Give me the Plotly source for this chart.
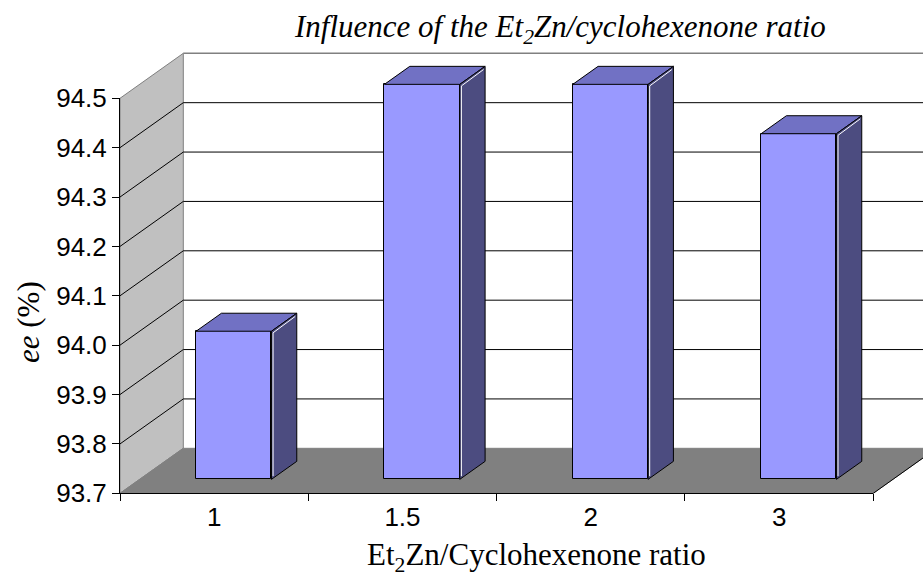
import plotly.graph_objects as go

# ---- data ---------------------------------------------------------------
ratios = ["1", "1.5", "2", "3"]
ee_values = [94.0, 94.5, 94.5, 94.4]
y_ticks = [93.7, 93.8, 93.9, 94.0, 94.1, 94.2, 94.3, 94.4, 94.5]
y_min, y_max = 93.7, 94.5

# ---- pseudo-3D frame geometry (pixels) ----------------------------------
W, H = 923, 576
FX0, FX1 = 120.0, 873.3          # front edge of the floor
FY_BOT, FY_TOP = 493.3, 98.3     # y_min / y_max on the front axis
DEPTH_X, DEPTH_Y = 63.3, 45.0    # projected depth of the floor
BAR_FRONT = 0.31                 # depth fraction where bar fronts sit
BAR_DEPTH = 0.40                 # depth fraction occupied by a bar
BAR_WIDTH = 0.40                 # bar width in category units

n = len(ratios)
cat_w = (FX1 - FX0) / n
ppu = (FY_BOT - FY_TOP) / (y_max - y_min)   # pixels per y unit

FRONT_COLOR = "#9999FF"
TOP_COLOR = "#7171C4"
SIDE_COLOR = "#4C4C80"
WALL_COLOR = "#C0C0C0"
FLOOR_COLOR = "#808080"
EDGE_GRAY = "#808080"

SANS = "Liberation Sans, Arial, sans-serif"
SERIF = "Liberation Serif, Times New Roman, serif"


def fx(p):
    return p / W


def fy(p):
    return 1 - p / H


def y_front(v):
    return FY_BOT - (v - y_min) * ppu


def path(points):
    return "M " + " L ".join(f"{fx(a):.5f},{fy(b):.5f}" for a, b in points)


def data_path(points, close=True):
    s = "M " + " L ".join(f"{a:.5f},{b:.5f}" for a, b in points)
    return s + " Z" if close else s


# axes for the bar plane, shifted back into the depth of the chart
dx0, dy0 = BAR_FRONT * DEPTH_X, BAR_FRONT * DEPTH_Y
x2_range = [(0 - FX0 - dx0) / cat_w - 0.5, (W - FX0 - dx0) / cat_w - 0.5]
y2_range = [y_min + (FY_BOT - dy0 - H) / ppu, y_min + (FY_BOT - dy0) / ppu]

fig = go.Figure()

# category holder for the front axis
fig.add_trace(go.Scatter(
    x=ratios, y=[y_min] * n, mode="markers", marker=dict(opacity=0),
    xaxis="x", yaxis="y", showlegend=False, hoverinfo="skip"))

# front faces of the bars
fig.add_trace(go.Bar(
    x=list(range(n)), y=[v - y_min for v in ee_values], base=y_min,
    width=BAR_WIDTH, xaxis="x2", yaxis="y2",
    marker=dict(color=FRONT_COLOR, line=dict(color="black", width=1)),
    showlegend=False, hovertemplate="%{customdata}<extra></extra>",
    customdata=ee_values))

shapes = []

# left wall
DX, DY = DEPTH_X, DEPTH_Y
shapes.append(dict(
    type="path", xref="paper", yref="paper", layer="below",
    path=path([(FX0, y_front(y_max)), (FX0 + DX, y_front(y_max) - DY),
               (FX0 + DX, FY_BOT - DY), (FX0, FY_BOT)]) + " Z",
    fillcolor=WALL_COLOR, line=dict(color=EDGE_GRAY, width=1)))

# floor
shapes.append(dict(
    type="path", xref="paper", yref="paper", layer="below",
    path=path([(FX0, FY_BOT), (FX1, FY_BOT), (FX1 + DX, FY_BOT - DY),
               (FX0 + DX, FY_BOT - DY)]) + " Z",
    fillcolor=FLOOR_COLOR, line=dict(color=EDGE_GRAY, width=1)))
shapes.append(dict(
    type="path", xref="paper", yref="paper", layer="below",
    path=path([(FX1, FY_BOT), (FX1 + DX, FY_BOT - DY)]),
    line=dict(color="black", width=1)))

# back wall top edge
shapes.append(dict(
    type="path", xref="paper", yref="paper", layer="below",
    path=path([(FX0 + DX, y_front(y_max) - DY), (FX1 + DX, y_front(y_max) - DY)]),
    line=dict(color=EDGE_GRAY, width=1.5)))

# gridlines: across the side wall, then along the back wall
for v in y_ticks[1:-1]:
    yp = y_front(v)
    shapes.append(dict(
        type="path", xref="paper", yref="paper", layer="below",
        path=path([(FX0, yp), (FX0 + DX, yp - DY), (FX1 + DX, yp - DY)]),
        line=dict(color="black", width=1)))

# top and side faces of the bars
ddx = BAR_DEPTH * DEPTH_X / cat_w
ddy = BAR_DEPTH * DEPTH_Y / ppu
hw = BAR_WIDTH / 2
off_x, off_y = 1.6 / cat_w, 1.6 / ppu
for i, v in enumerate(ee_values):
    shapes.append(dict(
        type="path", xref="x2", yref="y2", layer="above",
        path=data_path([(i - hw, v), (i + hw, v), (i + hw + ddx, v + ddy),
                        (i - hw + ddx, v + ddy)]),
        fillcolor=TOP_COLOR, line=dict(color="black", width=1)))
    shapes.append(dict(
        type="path", xref="x2", yref="y2", layer="above",
        path=data_path([(i + hw, y_min), (i + hw, v), (i + hw + ddx, v + ddy),
                        (i + hw + ddx, y_min + ddy)]),
        fillcolor=SIDE_COLOR, line=dict(color="black", width=1)))
    # light highlight along the inner edge of the side face
    shapes.append(dict(
        type="path", xref="x2", yref="y2", layer="above",
        path=data_path([(i + hw + off_x, y_min + 2 * off_y),
                        (i + hw + off_x, v - off_y),
                        (i + hw + ddx - off_x, v + ddy - 2 * off_y)], close=False),
        line=dict(color="white", width=1)))

annotations = [
    dict(text="<i>Influence of the Et<sub>2</sub>Zn/cyclohexenone ratio</i>",
         xref="paper", yref="paper", x=fx(560), y=fy(29),
         xanchor="center", yanchor="middle", showarrow=False,
         font=dict(family=SERIF, size=31, color="black")),
    dict(text="Et<sub>2</sub>Zn/Cyclohexenone ratio",
         xref="paper", yref="paper", x=fx(536), y=fy(557),
         xanchor="center", yanchor="middle", showarrow=False,
         font=dict(family=SERIF, size=31, color="black")),
    dict(text="<i>ee</i> (%)", textangle=-90,
         xref="paper", yref="paper", x=fx(28), y=fy(322),
         xanchor="center", yanchor="middle", showarrow=False,
         font=dict(family=SERIF, size=31, color="black")),
]

fig.update_layout(
    width=W, height=H, autosize=False,
    margin=dict(l=0, r=0, t=0, b=0, pad=0, autoexpand=False),
    paper_bgcolor="white", plot_bgcolor="rgba(0,0,0,0)",
    showlegend=False, bargap=0,
    xaxis=dict(
        domain=[fx(FX0), fx(FX1)], anchor="y", type="category",
        categoryorder="array", categoryarray=ratios,
        range=[-0.5, n - 0.5], tickson="boundaries",
        ticks="outside", ticklen=7, tickcolor="black", tickwidth=1,
        showline=True, linecolor="black", linewidth=1,
        showgrid=False, zeroline=False, fixedrange=True, automargin=False,
        tickfont=dict(family=SANS, size=26, color="black")),
    yaxis=dict(
        domain=[fy(FY_BOT), fy(FY_TOP)], anchor="x",
        range=[y_min, y_max], tickvals=y_ticks,
        ticktext=[f"{t:.1f}" for t in y_ticks],
        ticks="outside", ticklen=7, tickcolor="black", tickwidth=1,
        showline=True, linecolor="black", linewidth=1,
        showgrid=False, zeroline=False, fixedrange=True, automargin=False,
        tickfont=dict(family=SANS, size=26, color="black")),
    xaxis2=dict(domain=[0, 1], anchor="y2", range=x2_range, visible=False,
                fixedrange=True),
    yaxis2=dict(domain=[0, 1], anchor="x2", range=y2_range, visible=False,
                fixedrange=True),
    shapes=shapes, annotations=annotations,
)

fig.write_html("out.html")
